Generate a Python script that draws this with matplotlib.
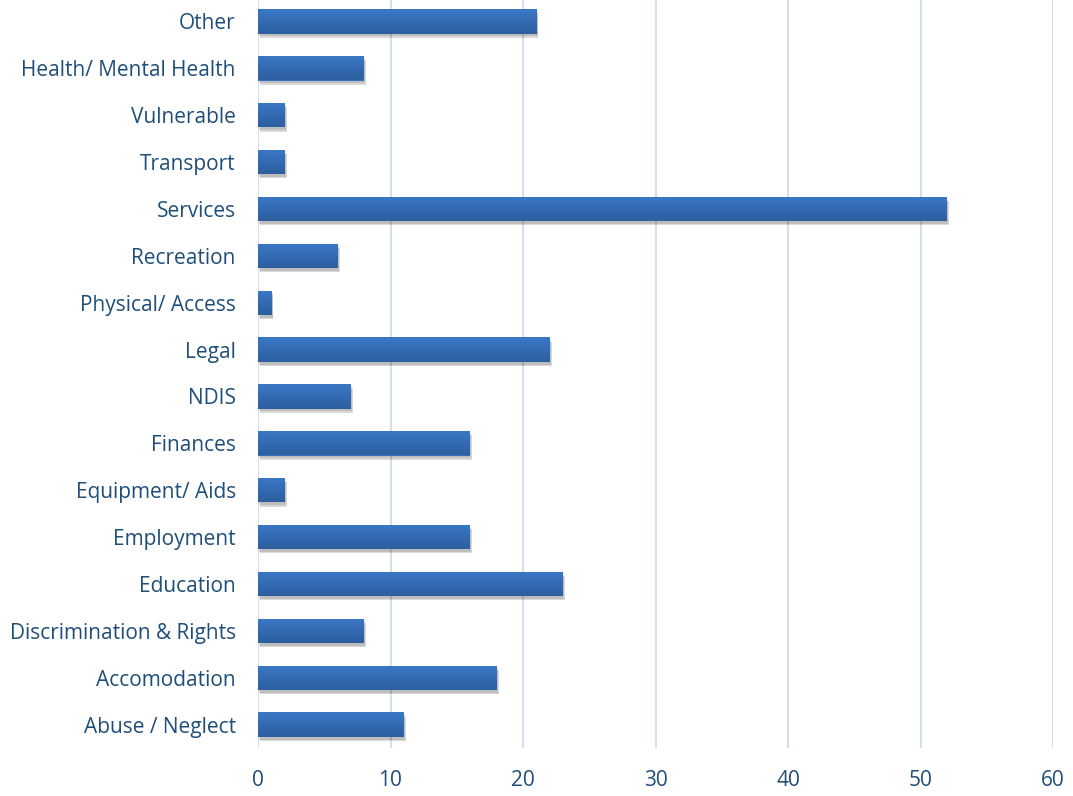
import matplotlib
matplotlib.use("Agg")
import matplotlib.pyplot as plt
import matplotlib.patheffects as pe
import numpy as np
from matplotlib.colors import LinearSegmentedColormap

categories = ["Abuse / Neglect", "Accomodation", "Discrimination & Rights", "Education",
              "Employment", "Equipment/ Aids", "Finances", "NDIS", "Legal",
              "Physical/ Access", "Recreation", "Services", "Transport", "Vulnerable",
              "Health/ Mental Health", "Other"]
values = [11, 18, 8, 23, 16, 2, 16, 7, 22, 1, 6, 52, 2, 2, 8, 21]
xticks = [0, 10, 20, 30, 40, 50, 60]

text_color = "#1f4e79"
grid_color = "#d3deef"

fig = plt.figure(figsize=(10.73, 7.96), dpi=100)
ax = fig.add_axes([258/1073, 48/796, (1053-258)/1073, 750/796])

y = np.arange(len(categories))
bars = ax.barh(y, values, height=0.52, color="#3470bb", zorder=3,
               path_effects=[pe.SimplePatchShadow(offset=(1.5, -3), shadow_rgbFace="#000000", alpha=0.15),
                             pe.SimplePatchShadow(offset=(1, -2), shadow_rgbFace="#000000", alpha=0.12),
                             pe.Normal()])

cmap = LinearSegmentedColormap.from_list("g", ["#2d5e9f", "#3a78c6"])
grad = np.linspace(0, 1, 64).reshape(-1, 1)
for b in bars:
    x0, y0 = b.get_x(), b.get_y()
    w, h = b.get_width(), b.get_height()
    im = ax.imshow(grad, cmap=cmap, extent=(x0, x0 + w, y0, y0 + h), origin="lower",
                   aspect="auto", zorder=4, interpolation="bilinear")
    im.set_clip_path(b)

ax.set_xlim(0, 60)
ax.set_ylim(-0.5, len(categories) - 0.5)
ax.set_xticks(xticks)
ax.set_yticks(y)
ax.set_yticklabels(categories)
ax.xaxis.grid(True, color=grid_color, linewidth=1.5, zorder=0)
ax.set_axisbelow(True)
for s in ax.spines.values():
    s.set_visible(False)
ax.tick_params(axis="both", length=0, labelcolor=text_color, labelsize=15)
ax.tick_params(axis="y", pad=16)
ax.tick_params(axis="x", pad=16)
for lab in ax.get_xticklabels() + ax.get_yticklabels():
    lab.set_fontfamily("Open Sans")

fig.savefig("out.png", dpi=100)
